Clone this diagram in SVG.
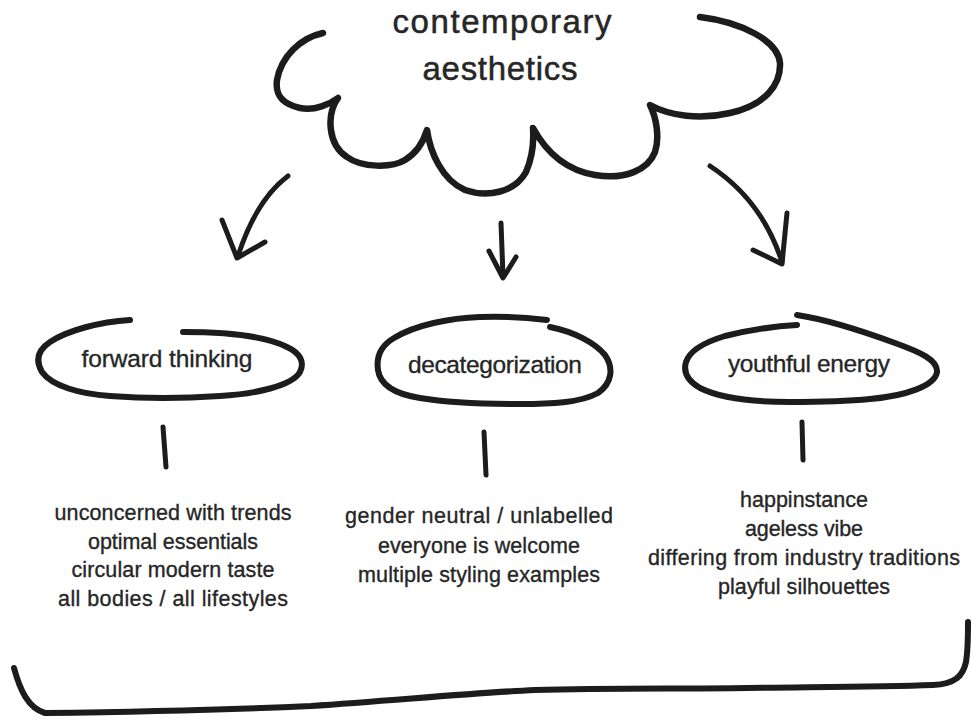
<svg xmlns="http://www.w3.org/2000/svg" width="971" height="719" viewBox="0 0 971 719">
  <style>
    .ink { fill: none; stroke: #1c1c1c; stroke-linecap: round; stroke-linejoin: round; }
    .cloud { stroke-width: 6.5; }
    .oval { stroke-width: 6; }
    .tick { stroke-width: 5; }
    .arrow { stroke-width: 5; }
    .bracket { stroke-width: 6; }
    text { font-family: "Liberation Sans", "DejaVu Sans", sans-serif; fill: #262626; stroke: #262626; stroke-width: 0.35; text-anchor: middle; }
    .title { font-size: 33px; stroke-width: 0.5; }
    .label { font-size: 24.5px; }
    .item { font-size: 21.5px; }
  </style>

  <!-- central cloud with its title -->
  <g id="cloud">
    <path class="ink cloud" d="M323,33 C300,38 281,57 277,80 C275,95 282,104 300,108 C315,111 330,104 338,98
      C326,115 328,145 347,157 C362,168 392,168 405,160 C418,152 424,140 427,130
      C430,152 442,180 465,190 C488,198 515,192 526,172 C532,158 534,142 533,128
      C545,150 565,170 595,175 C625,180 648,170 655,152 C660,137 656,117 650,105
      C670,116 700,120 730,113 C765,105 781,85 780,63 C778,40 740,22 700,17"/>
    <text class="title" x="502" y="33" textLength="219" lengthAdjust="spacing">contemporary</text>
    <text class="title" x="500" y="80" textLength="155" lengthAdjust="spacing">aesthetics</text>
  </g>

  <!-- arrows from the cloud and ticks under the ovals -->
  <g id="connectors">
    <path class="ink arrow" d="M288,176 Q256,200 238,256"/>
    <path class="ink arrow" stroke-width="6" d="M222,220 L237,258 L265,242"/>
    <path class="ink arrow" d="M501,223 L503,276"/>
    <path class="ink arrow" d="M489,251 L503,278 L516,257"/>
    <path class="ink arrow" stroke-width="6" d="M710,166 Q762,200 782,262"/>
    <path class="ink arrow" stroke-width="7" d="M753,250 L782,264 L787,213"/>
    <path class="ink tick" d="M163,427 L166,467"/>
    <path class="ink tick" d="M484,432 L486,475"/>
    <path class="ink tick" d="M802,422 L803,460"/>
  </g>

  <!-- oval: forward thinking -->
  <g id="forward-thinking">
    <path class="ink oval" d="M183,332 C225,332 265,336 287,347 C300,353 305,362 300,372 C292,386 255,394 220,396
      C190,398 150,399 110,396 C80,394 52,386 42,372 C35,360 38,350 50,342 C68,330 100,322 130,320"/>
    <text class="label" x="167" y="367" textLength="171" lengthAdjust="spacing">forward thinking</text>
  </g>

  <!-- oval: decategorization -->
  <g id="decategorization">
    <path class="ink oval" d="M550,327 C575,332 595,343 605,355 C614,368 612,383 598,393 C580,403 550,404 520,404
      C490,404 450,403 420,398 C395,394 380,385 378,370 C376,356 382,345 394,338 C415,325 450,318 480,317
      C505,316 530,318 547,320"/>
    <text class="label" x="495" y="373" textLength="174" lengthAdjust="spacing">decategorization</text>
  </g>

  <!-- oval: youthful energy -->
  <g id="youthful-energy">
    <path class="ink oval" d="M797,315 C830,320 865,332 895,343 C920,352 938,360 937,372 C935,386 905,396 870,399
      C840,402 815,402 790,402 C755,402 720,398 700,388 C688,381 683,372 686,362 C690,350 705,342 725,336
      C750,330 775,326 797,325"/>
    <text class="label" x="809" y="372" textLength="162" lengthAdjust="spacing">youthful energy</text>
  </g>

  <!-- item lists -->
  <g id="list-forward-thinking">
    <text class="item" x="173" y="520" textLength="237" lengthAdjust="spacing">unconcerned with trends</text>
    <text class="item" x="173" y="548.5" textLength="170" lengthAdjust="spacing">optimal essentials</text>
    <text class="item" x="173" y="577" textLength="203" lengthAdjust="spacing">circular modern taste</text>
    <text class="item" x="173" y="605.5" textLength="230" lengthAdjust="spacing">all bodies / all lifestyles</text>
  </g>
  <g id="list-decategorization">
    <text class="item" x="479" y="523" textLength="268" lengthAdjust="spacing">gender neutral / unlabelled</text>
    <text class="item" x="479" y="552.5" textLength="202" lengthAdjust="spacing">everyone is welcome</text>
    <text class="item" x="479" y="582" textLength="242" lengthAdjust="spacing">multiple styling examples</text>
  </g>
  <g id="list-youthful-energy">
    <text class="item" x="804" y="507" textLength="128" lengthAdjust="spacing">happinstance</text>
    <text class="item" x="804" y="536" textLength="118" lengthAdjust="spacing">ageless vibe</text>
    <text class="item" x="804" y="565" textLength="312" lengthAdjust="spacing">differing from industry traditions</text>
    <text class="item" x="804" y="593.5" textLength="172" lengthAdjust="spacing">playful silhouettes</text>
  </g>

  <!-- bracket gathering the three groups -->
  <g id="bracket">
    <path class="ink bracket" d="M14,668 C20,690 28,708 45,713 C120,712 220,710 311,706 C400,700 470,693 535,690
      C610,688 680,689 747,688 C820,687 880,687 933,685 C955,684 963,676 966,662 C968,650 968,635 968,622"/>
  </g>
</svg>
